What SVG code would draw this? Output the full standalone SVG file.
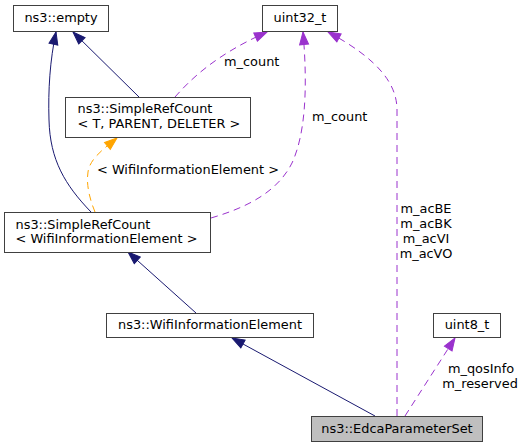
<svg xmlns="http://www.w3.org/2000/svg" width="525" height="448" viewBox="0 0 525 448">
<style>
text{font-family:"DejaVu Sans","Liberation Sans",sans-serif;font-size:12.9px;fill:#000}
.box{fill:#fff;stroke:#404040;stroke-width:1}
.cur{fill:#bfbfbf}
.m{text-anchor:middle}
.nav{fill:none;stroke:#191970;stroke-width:1}
.pur{fill:none;stroke:#9a32cd;stroke-width:1;stroke-dasharray:7,5}
.org{fill:none;stroke:#ffa500;stroke-width:1;stroke-dasharray:7,5}
</style>
<defs>
<marker id="aN" markerUnits="userSpaceOnUse" markerWidth="14" markerHeight="11" refX="12.5" refY="5" orient="auto" viewBox="-1 -0.5 14 11"><path d="M0,0.5 L12.5,5 L0,9.5 Z" fill="#191970" stroke="#191970"/></marker>
<marker id="aP" markerUnits="userSpaceOnUse" markerWidth="14" markerHeight="11" refX="12.5" refY="5" orient="auto" viewBox="-1 -0.5 14 11"><path d="M0,0.5 L12.5,5 L0,9.5 Z" fill="#9a32cd" stroke="#9a32cd"/></marker>
<marker id="aO" markerUnits="userSpaceOnUse" markerWidth="14" markerHeight="11" refX="12.5" refY="5" orient="auto" viewBox="-1 -0.5 14 11"><path d="M0,0.5 L12.5,5 L0,9.5 Z" fill="#ffa500" stroke="#ffa500"/></marker>
</defs>
<rect width="525" height="448" fill="#fff"/>
<g id="edges">
<path class="nav" d="M91,212 C65,185 50,160 49,120 C48,90 50,60 56,32" marker-end="url(#aN)"/>
<path class="nav" d="M139,97 L73,32" marker-end="url(#aN)"/>
<path class="org" d="M95,212 C90,200 86,185 88,172 C90,158 105,148 117,138" marker-end="url(#aO)"/>
<text x="97" y="174">&lt; WifiInformationElement &gt;</text>
<path class="pur" d="M175,97 C190,80 215,55 267,32" marker-end="url(#aP)"/>
<text x="224" y="66">m_count</text>
<path class="pur" d="M211,218 C245,208 277,193 292,163 C305,135 308,90 303,32" marker-end="url(#aP)"/>
<text x="312" y="121">m_count</text>
<path class="pur" d="M397,416 L397,110 C397,85 380,60 328,32" marker-end="url(#aP)"/>
<text class="m" x="426" y="213.3">m_acBE</text>
<text class="m" x="426" y="228.3">m_acBK</text>
<text class="m" x="426" y="243.3">m_acVI</text>
<text class="m" x="426" y="258.3">m_acVO</text>
<path class="pur" d="M405,416 L455,338" marker-end="url(#aP)"/>
<text class="m" x="481" y="372.6">m_qosInfo</text>
<text class="m" x="480" y="387.6">m_reserved</text>
<path class="nav" d="M375,416 L232,338" marker-end="url(#aN)"/>
<path class="nav" d="M196,313 L128,252" marker-end="url(#aN)"/>
</g>
<g id="node_empty"><rect class="box" x="13.5" y="5.5" width="95" height="26"/><text class="m" x="61" y="22">ns3::empty</text></g>
<g id="node_uint32"><rect class="box" x="262.5" y="5.5" width="75" height="26"/><text class="m" x="300" y="22">uint32_t</text></g>
<g id="node_srcT"><rect class="box" x="65.5" y="97.5" width="185" height="40"/><text x="77.5" y="113">ns3::SimpleRefCount</text><text x="77.5" y="128">&lt; T, PARENT, DELETER &gt;</text></g>
<g id="node_srcW"><rect class="box" x="4.5" y="212.5" width="206" height="40"/><text x="15.5" y="228.5">ns3::SimpleRefCount</text><text x="15.5" y="243">&lt; WifiInformationElement &gt;</text></g>
<g id="node_wie"><rect class="box" x="106.5" y="313.5" width="207" height="24"/><text class="m" x="210" y="329">ns3::WifiInformationElement</text></g>
<g id="node_uint8"><rect class="box" x="433.5" y="313.5" width="67" height="24"/><text class="m" x="467" y="329">uint8_t</text></g>
<g id="node_edca"><rect class="box cur" x="311.5" y="416.5" width="171" height="25"/><text class="m" x="397" y="433.3">ns3::EdcaParameterSet</text></g>
</svg>
